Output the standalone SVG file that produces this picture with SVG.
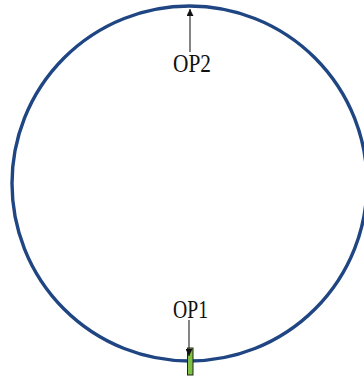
<svg xmlns="http://www.w3.org/2000/svg" width="364" height="380" viewBox="0 0 364 380">
<style>
.lbl{font-family:"Liberation Serif","Noto Sans CJK SC",serif;font-size:26px;fill:#111}
.conn{stroke:#333;stroke-width:1.2;fill:none}
</style>
<defs>
<marker id="ah" viewBox="0 0 10 10" refX="10" refY="5" markerWidth="7" markerHeight="7" orient="auto" markerUnits="userSpaceOnUse">
<path d="M0,0 L10,5 L0,10 z" fill="#111"/>
</marker>
</defs>
<rect width="364" height="380" fill="#fff"/>
<g id="ring">
<circle cx="189.5" cy="183.5" r="177.5" fill="none" stroke="#1f4683" stroke-width="3.4"/>
</g>
<g id="op1-marker">
<rect x="187.5" y="348" width="5.5" height="27" fill="#7cc142" stroke="#222" stroke-width="1"/>
</g>
<g id="connectors">
<line class="conn" x1="190" y1="52" x2="190" y2="9" marker-end="url(#ah)"/>
<line class="conn" x1="189" y1="320" x2="189" y2="356" marker-end="url(#ah)"/>
</g>
<g id="op2">
<text class="lbl" x="173" y="72" textLength="38" lengthAdjust="spacingAndGlyphs">OP2</text>
</g>
<g id="op1">
<text class="lbl" x="173" y="318" textLength="35" lengthAdjust="spacingAndGlyphs">OP1</text>
</g>
</svg>
